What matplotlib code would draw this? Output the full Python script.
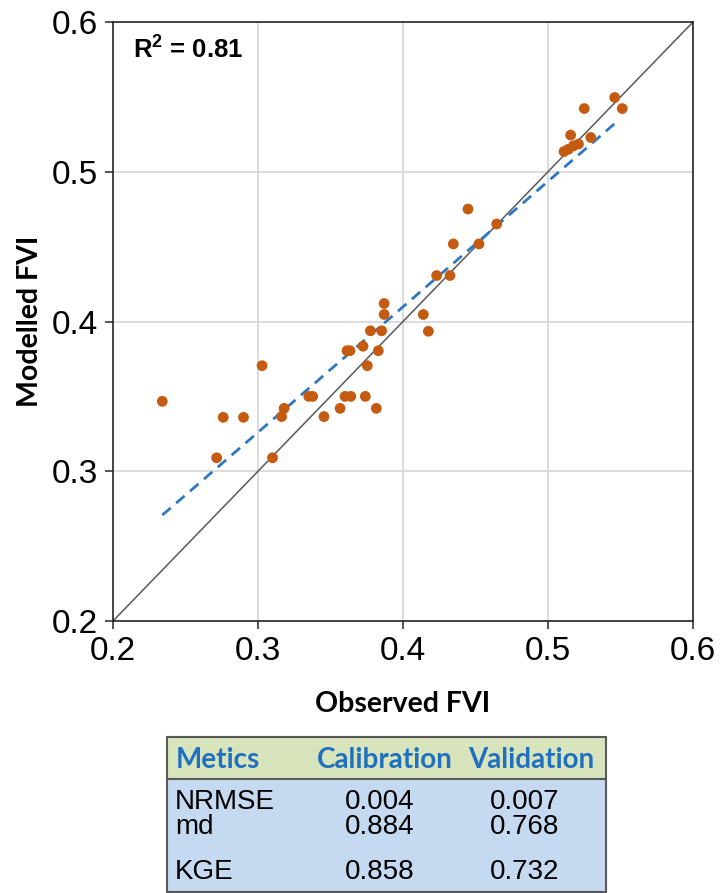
import matplotlib
matplotlib.use("Agg")
import matplotlib.pyplot as plt
from matplotlib.patches import Rectangle

# observed vs modelled FVI
observed = [0.234, 0.2715, 0.276, 0.290, 0.3028, 0.310, 0.3163, 0.318, 0.335, 0.3377,
            0.3455, 0.3566, 0.360, 0.364, 0.3614, 0.3634, 0.3724, 0.374, 0.3754, 0.3775,
            0.3816, 0.383, 0.3853, 0.387, 0.387, 0.414, 0.4175, 0.4232, 0.4324, 0.4347,
            0.4448, 0.4524, 0.4646, 0.511, 0.514, 0.5175, 0.521, 0.5156, 0.5295, 0.525,
            0.546, 0.5512]
modelled = [0.3467, 0.309, 0.336, 0.336, 0.3705, 0.309, 0.3365, 0.342, 0.350, 0.350,
            0.3365, 0.342, 0.350, 0.350, 0.3805, 0.3805, 0.3835, 0.350, 0.3705, 0.3938,
            0.342, 0.3805, 0.3938, 0.4047, 0.412, 0.4047, 0.3935, 0.4307, 0.4307, 0.4518,
            0.4751, 0.4518, 0.4651, 0.5135, 0.515, 0.5173, 0.5185, 0.5245, 0.5229, 0.5422,
            0.5496, 0.5422]

# linear trend (slope / intercept) and its x range
trend_slope = 0.838
trend_intercept = 0.0746
trend_x = [0.234, 0.547]

ticks = [0.2, 0.3, 0.4, 0.5, 0.6]
r2_text = "R$^{2}$ = 0.81"

# metrics table
table_header = ["Metics", "Calibration", "Validation"]
metric_names = ["NRMSE", "md", "KGE"]
calibration = ["0.004", "0.884", "0.858"]
validation = ["0.007", "0.768", "0.732"]

ORANGE = "#C55A11"
BLUE = "#2E78C0"

plt.rcParams['mathtext.default'] = 'regular'

fig = plt.figure(figsize=(7.21, 8.93), dpi=100)
ax = fig.add_axes([113 / 721, 1 - 621 / 893, 580 / 721, 599 / 893])

ax.set_xlim(0.2, 0.6)
ax.set_ylim(0.2, 0.6)
ax.set_xticks(ticks)
ax.set_yticks(ticks)
ax.set_xticklabels([f"{t:.1f}" for t in ticks])
ax.set_yticklabels([f"{t:.1f}" for t in ticks])
ax.grid(color="#d9d9d9", linewidth=1.3)
ax.set_axisbelow(True)

ax.plot([0.2, 0.6], [0.2, 0.6], color="#595959", linewidth=1.1, zorder=2)
ax.plot(trend_x, [trend_intercept + trend_slope * v for v in trend_x],
        color=BLUE, linewidth=2.0, dashes=(4.0, 2.6), zorder=3)
ax.scatter(observed, modelled, s=60, color=ORANGE, edgecolors="none", zorder=4)

for sp in ax.spines.values():
    sp.set_color("#262626")
    sp.set_linewidth(1.2)
ax.tick_params(direction="out", length=6, width=1.1, color="#262626", pad=5,
               labelsize=24)
for lab in ax.get_xticklabels() + ax.get_yticklabels():
    lab.set_fontfamily("Liberation Sans")

ax.set_xlabel("Observed FVI", fontfamily="Lato", fontweight="bold", fontsize=20.5,
              labelpad=17)
ax.set_ylabel("Modelled FVI", fontfamily="Lato", fontweight="bold", fontsize=20.5,
              labelpad=6)

ax.text(0.0345, 0.953, r2_text, transform=ax.transAxes, fontfamily="Liberation Sans",
        fontweight="bold", fontsize=18.5, va="center", ha="left")

# table drawn in its own axes, pixel-like coordinates
tx = fig.add_axes([167 / 721, 1 - 892 / 893, 439 / 721, 155 / 893])
tx.set_xlim(0, 439)
tx.set_ylim(155, 0)
tx.axis("off")
tx.add_patch(Rectangle((0, 0), 439, 42, facecolor="#D8E4BC", edgecolor="none"))
tx.add_patch(Rectangle((0, 42), 439, 113, facecolor="#C5D9F1", edgecolor="none"))
tx.add_patch(Rectangle((0, 0), 439, 155, facecolor="none", edgecolor="#595959",
                       linewidth=1.5, clip_on=False))
tx.plot([0, 439], [42, 42], color="#595959", linewidth=1.5)

header_x = [9, 150, 301]
for x, h in zip(header_x, table_header):
    tx.text(x, 23, h, color="#1F70C1", fontfamily="Lato", fontweight="bold",
            fontsize=20, va="center", ha="left")

row_y = [65, 90, 135]
for y, name, c, v in zip(row_y, metric_names, calibration, validation):
    tx.text(8, y, name, fontfamily="Liberation Sans", fontsize=20, va="center", ha="left")
    tx.text(213, y, c, fontfamily="Liberation Sans", fontsize=20, va="center", ha="center")
    tx.text(358, y, v, fontfamily="Liberation Sans", fontsize=20, va="center", ha="center")

fig.savefig("out.png", dpi=100)
